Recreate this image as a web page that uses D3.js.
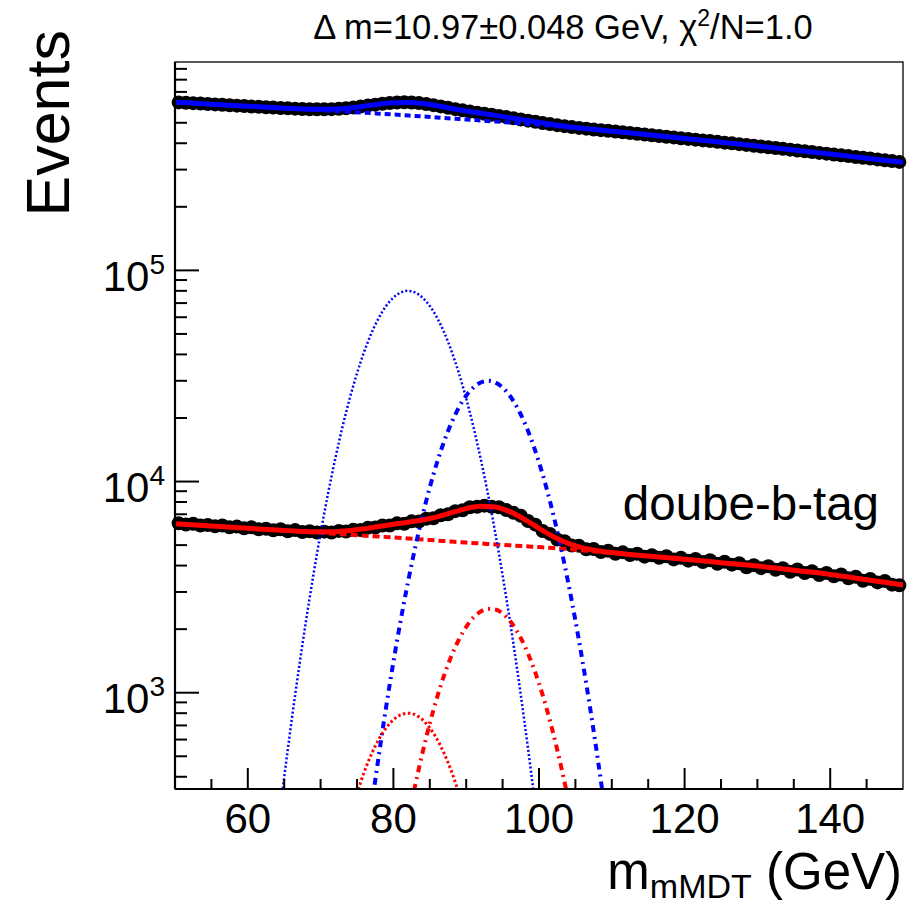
<!doctype html>
<html>
  <head>
    <meta charset="utf-8">
    <title>mMDT mass fit</title>
    <style>
      body { margin: 0; background: #fff; }
      svg { display: block; font-family: "Liberation Sans", Arial, Helvetica, sans-serif; }
    </style>
    <script src="https://cdn.jsdelivr.net/npm/d3@7/dist/d3.min.js"></script>
  </head>
  <body>
    <svg id="chart" width="917" height="907"></svg>
    <script>

    // bin centres of the histogram (1 GeV bins)
    var binMass = d3.range(100).map(function(i){ return 50.5 + i; });

    // inclusive sample (upper), events per bin
    var inclusiveCounts = [
      624300,622000,619200,616500,613500,610800,608000,605500,602600,600400,
      597500,595200,592400,590100,587600,585200,583400,581100,579800,579000,
      578900,580200,582400,585900,591000,596700,602900,609400,615400,620600,
      623800,625000,624100,619700,613400,605900,597600,589100,580200,572500,
      564900,558300,551600,545500,538700,532000,525400,518300,511600,505300,
      499000,492700,487100,481900,477000,472800,468900,465000,461300,457800,
      454400,450800,447200,443900,440100,436500,433200,429600,426300,422700,
      419400,416000,412600,409400,406000,402600,399500,396100,392900,389500,
      386300,382900,379700,376300,373000,369800,366500,363400,360000,357000,
      353800,350700,347600,344400,341500,338300,335300,332200,329300,326400
    ];

    // double-b-tag sample (lower), events per bin
    var doubleBCounts = [
      6350,6260,6310,6190,6230,6140,6190,6070,6120,6010,
      6070,5940,5980,5880,5940,5810,5890,5770,5820,5740,
      5790,5730,5840,5800,5910,5890,6050,6060,6190,6190,
      6340,6310,6480,6470,6670,6700,6920,7000,7240,7310,
      7550,7600,7690,7600,7550,7330,7110,6890,6500,6250,
      5830,5650,5320,5220,4980,4960,4780,4790,4640,4700,
      4550,4620,4490,4550,4410,4480,4360,4430,4280,4360,
      4220,4300,4160,4240,4080,4170,4040,4100,3930,4020,
      3890,3970,3820,3890,3740,3830,3690,3760,3610,3690,
      3560,3630,3480,3540,3390,3460,3330,3380,3250,3230
    ];

    // fit curves, sampled
    var fitMass = [50,55,60,62,64,66,68,70,72,74,76,78,80,82,84,86,88,90,92,94,96,98,100,
                   102,104,106,108,110,115,120,125,130,135,140,145,150];

    var inclusiveTotal = [625600,612000,598900,593750,588710,584130,580490,579000,581080,588060,
                          599490,612560,622730,624540,616830,601780,584490,568800,555030,542160,
                          528670,514990,502040,489650,479340,470700,463100,456060,438300,421000,
                          404300,387900,371300,355400,339800,324900];
    var inclusiveBkg   = [625600,612000,598900,593700,588500,583400,578300,573300,568300,563300,
                          558000,552400,547000,541200,535600,529800,524100,518600,512800,507000,
                          501000,495200,489500,482700,476000,469300,462600,455900,438300,421000,
                          404300,387900,371300,355400,339800,324900];

    var doubleBTotal = [6310,6166,6012,5951,5891,5840,5797,5777,5792,5860,5977,6126,6279,6419,
                        6579,6808,7121,7447,7647,7577,7203,6625,6005,5473,5095,4855,4706,4608,
                        4436,4285,4130,3981,3802,3631,3428,3236];
    var doubleBBkg   = [6310,6166,6012,5951,5891,5832,5773,5715,5657,5600,5544,5488,5433,5373,
                        5314,5256,5198,5140,5088,5037,4989,4943,4898,4840,4782,4721,4656,4592,
                        4436,4285,4130,3981,3802,3631,3428,3236];

    // W peak component
    var wMass = d3.range(62, 103);
    var inclusiveW = [52,106,210,398,730,1289,2194,3600,5695,8688,12766,18105,24721,32553,41330,
                      50567,59650,67822,74336,78546,80000,78546,74336,67822,59650,50567,41330,
                      32553,24721,18105,12766,8688,5695,3600,2194,1289,730,398,210,106,52];
    var wMassB = d3.range(73, 92);
    var doubleBW = [196,256,334,422,513,602,681,745,786,800,786,745,681,602,513,422,334,256,196];

    // Z peak component
    var zMass = d3.range(75, 112);
    var inclusiveZ = [87,158,288,505,856,1397,2199,3337,4887,6897,9390,12330,15610,19060,22440,
                      25480,27900,29460,30000,29460,27900,25480,22440,19060,15610,12330,9390,
                      6897,4887,3337,2199,1397,856,505,288,158,87];
    var zMassB = d3.range(80, 107);
    var doubleBZ = [101,161,246,365,520,716,950,1217,1501,1787,2051,2271,2424,2496,2478,2372,
                    2190,1950,1674,1386,1107,852,633,453,313,208,134];

    var xTicks = [60, 80, 100, 120, 140];
    var yTicks = [1e3, 1e4, 1e5];

    var svg = d3.select("#chart");
    var padL = 175, padR = 903, padT = 62, padB = 789;

    var x = d3.scaleLinear().domain([50, 150]).range([padL, padR]);
    var y = d3.scaleLog().domain([350, 9.7e5]).range([padB, padT]);

    svg.append("clipPath").attr("id", "frame")
      .append("rect").attr("x", padL).attr("y", padT)
      .attr("width", padR - padL).attr("height", padB - padT);

    // frame
    svg.append("rect").attr("x", padL).attr("y", padT)
      .attr("width", padR - padL).attr("height", padB - padT)
      .attr("fill", "none").attr("stroke", "#000").attr("stroke-width", 1.3);

    var line = d3.line()
      .x(function(d){ return x(d[0]); })
      .y(function(d){ return y(d[1]); })
      .curve(d3.curveMonotoneX);

    var pair = function(xs, ys){ return xs.map(function(v, i){ return [v, ys[i]]; }); };

    // data points
    [inclusiveCounts, doubleBCounts].forEach(function(counts){
      svg.append("g").selectAll("circle")
        .data(pair(binMass, counts))
        .enter().append("circle")
        .attr("cx", function(d){ return x(d[0]); })
        .attr("cy", function(d){ return y(d[1]); })
        .attr("r", 7)
        .attr("fill", "#000");
    });

    var plot = svg.append("g").attr("clip-path", "url(#frame)");

    var curves = [
      { xs: fitMass, ys: inclusiveBkg, color: "#00f", w: 4, dash: "6,4" },
      { xs: fitMass, ys: doubleBBkg, color: "#f00", w: 4, dash: "7,4" },
      { xs: wMass, ys: inclusiveW, color: "#00f", w: 2.5, dash: "2,2.2" },
      { xs: zMass, ys: inclusiveZ, color: "#00f", w: 4, dash: "7,5,2,5" },
      { xs: wMassB, ys: doubleBW, color: "#f00", w: 3, dash: "2.5,2.5" },
      { xs: zMassB, ys: doubleBZ, color: "#f00", w: 4, dash: "7,5,2,5" },
      { xs: fitMass, ys: inclusiveTotal, color: "#00f", w: 5, dash: null },
      { xs: fitMass, ys: doubleBTotal, color: "#f00", w: 5, dash: null }
    ];

    curves.forEach(function(c){
      plot.append("path")
        .attr("d", line(pair(c.xs, c.ys)))
        .attr("fill", "none")
        .attr("stroke", c.color)
        .attr("stroke-width", c.w)
        .attr("stroke-dasharray", c.dash);
    });

    // y axis
    var yMinor = [];
    [100, 1000, 10000, 100000].forEach(function(dec){
      for (var k = 2; k <= 9; k++) {
        var v = dec * k;
        if (v >= 350 && v <= 9.7e5) yMinor.push(v);
      }
    });
    svg.append("g").selectAll("line").data(yMinor).enter().append("line")
      .attr("x1", padL).attr("x2", padL + 12)
      .attr("y1", function(d){ return y(d); }).attr("y2", function(d){ return y(d); })
      .attr("stroke", "#000").attr("stroke-width", 2);
    svg.append("g").selectAll("line").data(yTicks).enter().append("line")
      .attr("x1", padL).attr("x2", padL + 24)
      .attr("y1", function(d){ return y(d); }).attr("y2", function(d){ return y(d); })
      .attr("stroke", "#000").attr("stroke-width", 2);
    var yl = svg.append("g").selectAll("text").data(yTicks).enter().append("text")
      .attr("x", 165).attr("y", function(d){ return y(d) + 20.5; })
      .attr("text-anchor", "end").attr("font-size", 42);
    yl.append("tspan").text("10");
    yl.append("tspan").attr("font-size", 28).attr("dy", -17)
      .text(function(d){ return Math.round(Math.log10(d)); });

    // x axis
    var xMinor = d3.range(55, 150, 5).filter(function(v){ return v % 20 !== 0; });
    svg.append("g").selectAll("line").data(xMinor).enter().append("line")
      .attr("x1", function(d){ return x(d); }).attr("x2", function(d){ return x(d); })
      .attr("y1", padB).attr("y2", padB - 10)
      .attr("stroke", "#000").attr("stroke-width", 2);
    svg.append("g").selectAll("line").data(xTicks).enter().append("line")
      .attr("x1", function(d){ return x(d); }).attr("x2", function(d){ return x(d); })
      .attr("y1", padB).attr("y2", padB - 21)
      .attr("stroke", "#000").attr("stroke-width", 2);
    svg.append("g").selectAll("text").data(xTicks).enter().append("text")
      .attr("x", function(d){ return x(d); }).attr("y", 833)
      .attr("text-anchor", "middle").attr("font-size", 42)
      .text(function(d){ return d; });

    // axis lines
    svg.append("line").attr("x1", padL).attr("x2", padR).attr("y1", padB).attr("y2", padB)
      .attr("stroke", "#000").attr("stroke-width", 2.2);
    svg.append("line").attr("x1", padL).attr("x2", padL).attr("y1", padT).attr("y2", padB)
      .attr("stroke", "#000").attr("stroke-width", 2.2);

    // titles
    var t = svg.append("text").attr("x", 563).attr("y", 39)
      .attr("text-anchor", "middle").attr("font-size", 34.5);
    t.append("tspan").text("\u0394 m=10.97\u00b10.048 GeV, \u03c7");
    t.append("tspan").attr("font-size", 23).attr("dy", -13).text("2");
    t.append("tspan").attr("dy", 13).text("/N=1.0");

    svg.append("text")
      .attr("transform", "translate(69,30) rotate(-90)")
      .attr("text-anchor", "end").attr("font-size", 61)
      .text("Events");

    var xt = svg.append("text").attr("x", 902).attr("y", 889)
      .attr("text-anchor", "end").attr("font-size", 51);
    xt.append("tspan").text("m");
    xt.append("tspan").attr("font-size", 34).attr("dy", 9).text("mMDT");
    xt.append("tspan").attr("dy", -9).text(" (GeV)");

    svg.append("text").attr("x", 879).attr("y", 520)
      .attr("text-anchor", "end").attr("font-size", 47.5)
      .text("doube-b-tag");

    </script>
  </body>
</html>
